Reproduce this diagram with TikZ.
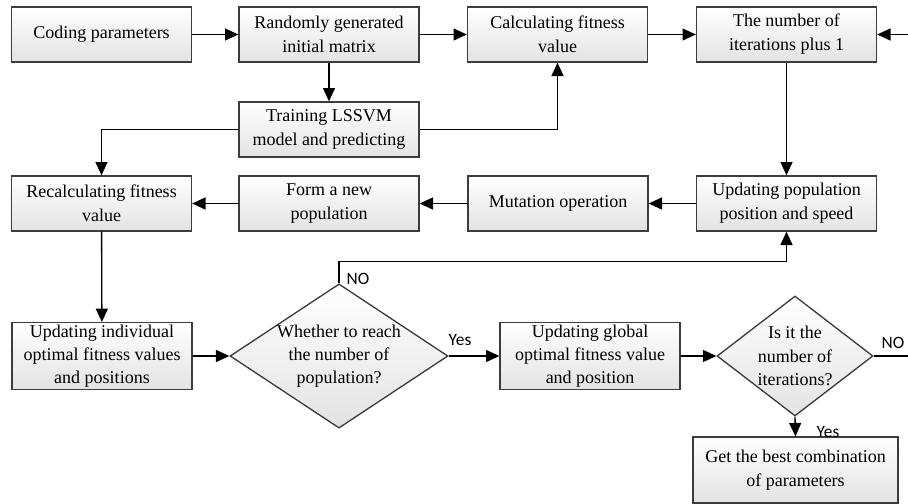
\documentclass[tikz,border=0pt]{standalone}
\usepackage{fontspec}
\setmainfont{Liberation Serif}
\newfontfamily\nhanfont{Carlito}
\usetikzlibrary{shapes,shapes.geometric}
\usetikzlibrary{arrows.meta}
\definecolor{khung}{RGB}{60,60,60}

\begin{document}
\begin{tikzpicture}[x=0.75pt,y=-0.75pt,line width=1pt,
	hop/.style={draw=khung,top color=white,bottom color=gray!22,align=center,minimum width=135pt,minimum height=41.25pt,inner sep=0pt,font=\fontsize{13.5}{18}\selectfont},
	thoi/.style={diamond,draw=khung,top color=white,bottom color=gray!22,align=center,inner sep=-8pt,font=\fontsize{13.5}{17.5}\selectfont},
	mui/.style={-{Triangle[length=10pt,width=9pt]}},
	nhan/.style={inner sep=0pt,font=\nhanfont\fontsize{13}{15}\selectfont}]
			\useasboundingbox (0,0) rectangle (908,504);
			\node[hop] (ma) at (101.5,34.5) {Coding parameters};
			\node[hop] (ngaunhien) at (329,34.5) {Randomly generated\\initial matrix};
			\node[hop] (tinhthichnghi) at (557.5,34.5) {Calculating fitness\\value};
			\node[hop] (lap) at (786.5,34.5) {The number of\\iterations plus 1};
			\node[hop] (huanluyen) at (329,129.5) {Training LSSVM\\model and predicting};
			\node[hop] (tinhlai) at (101.5,203.5) {Recalculating fitness\\value};
			\node[hop] (quanthe) at (329,203.5) {Form a new\\population};
			\node[hop] (dotbien) at (558,203.5) {Mutation operation};
			\node[hop] (capnhat) at (786.5,203.5) {Updating population\\position and speed};
			\node[hop,minimum height=50pt,font=\fontsize{13.5}{17}\selectfont] (canhan) at (102,356) {Updating individual\\optimal fitness values\\and positions};
			\node[thoi,minimum width=163.5pt,minimum height=103.5pt] (kiemtra) at (339,356) {Whether to reach\\the number of\\population?};
			\node[hop,minimum height=50pt,font=\fontsize{13.5}{17}\selectfont] (toancuc) at (590,356) {Updating global\\optimal fitness value\\and position};
			\node[thoi,minimum width=117pt,minimum height=90pt] (dunglap) at (795,356) {Is it the\\number of\\iterations?};
			\node[hop,minimum width=153.75pt,minimum height=49.5pt] (ketqua) at (795.5,470) {Get the best combination\\of parameters};
			\coordinate (raphai) at (908,356);
			\coordinate (vaophai) at (908,34.5);
			\draw[mui] (ma) -- (ngaunhien);
			\draw[mui] (ngaunhien) -- (tinhthichnghi);
			\draw[mui] (tinhthichnghi) -- (lap);
			\draw[mui] (vaophai) -- (lap.east);
			\draw[mui] (ngaunhien) -- (huanluyen);
			\draw[mui] (huanluyen.east) -| (tinhthichnghi.south);
			\draw[mui] (huanluyen.west) -| (tinhlai.north);
			\draw[mui] (lap) -- (capnhat);
			\draw[mui] (capnhat) -- (dotbien);
			\draw[mui] (dotbien) -- (quanthe);
			\draw[mui] (quanthe) -- (tinhlai);
			\draw[mui] (tinhlai) -- (canhan);
			\draw[mui] (canhan) -- (kiemtra);
			\draw[mui] (kiemtra) -- (toancuc);
			\draw[mui] (kiemtra.north) -- ++(0,-22) -| (capnhat.south);
			\draw[mui] (toancuc) -- (dunglap);
			\draw (dunglap.east) -- (raphai);
			\draw[mui] (dunglap.south) -- (ketqua.north);
				\node[nhan] (co1) at (460,340) {Yes};
				\node[nhan] (khong1) at (358,279) {NO};
				\node[nhan] (khong2) at (893,343) {NO};
				\node[nhan] (co2) at (828,432) {Yes};
		\end{tikzpicture}
\end{document}
